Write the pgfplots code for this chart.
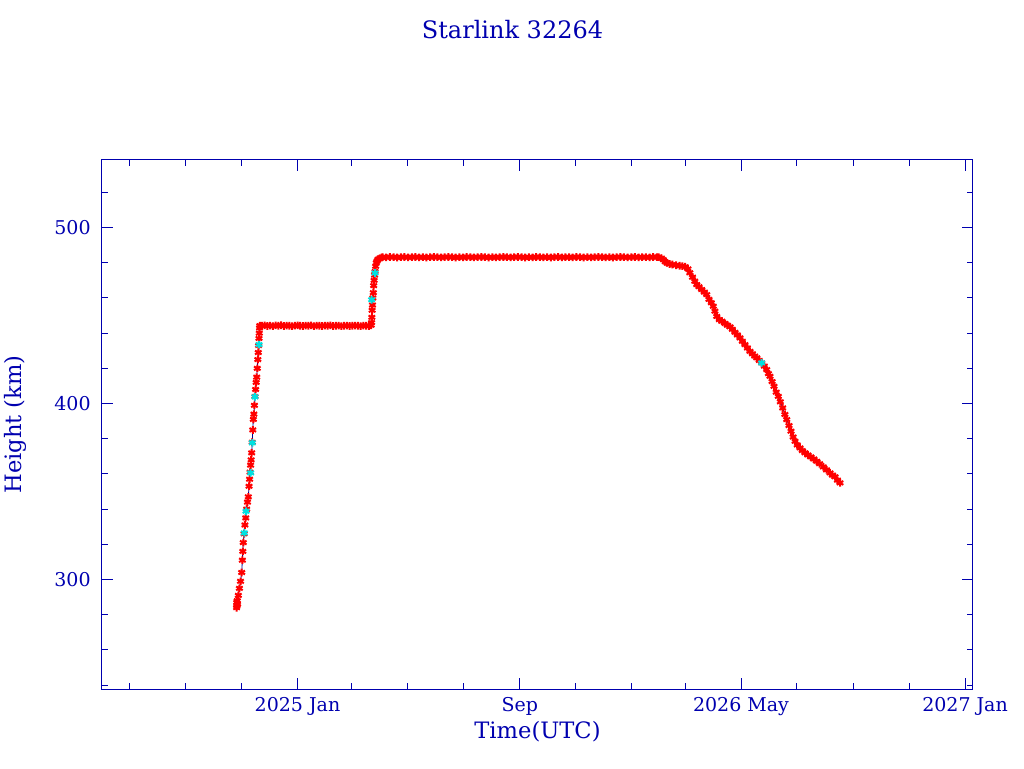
\documentclass[border=0pt]{standalone}
\usepackage{pgfplots}
\pgfplotsset{compat=1.18}
\usepackage{pgfplotstable}
\usepackage{fontspec}
\setmainfont{DejaVu Serif}
\definecolor{pgblue}{RGB}{0,0,175}
\definecolor{pgred}{RGB}{255,0,0}
\definecolor{pgcyan}{RGB}{0,225,225}
\definecolor{pgline}{RGB}{0,0,140}

\pgfplotstableread{
day h
-66.6 284
-66.4 287
-66.2 285
-65.9 288
-65.6 286
-64.7 291
-63.5 295
-62.3 299
-61.0 304
-60.3 311
-59.8 316
-59.3 321
-58.4 326
-57.5 331
-56.6 335
-55.6 340
-54.7 344
-53.8 347
-53.0 353
-52.4 357
-51.9 361
-51.3 365
-50.7 368
-50.1 372
-49.5 378
-48.9 385
-48.3 391
-47.7 394
-47.1 399
-46.5 404
-45.8 408
-45.2 412
-44.6 415
-44.0 420
-43.4 425
-42.9 429
-42.5 433
-42.1 437
-41.8 440
-41.5 443
-41.2 444.3
-39 444.2
-36 444.4
-33 444.1
-30 444.3
-27 444.0
-24 444.4
-21 444.2
-18 444.5
-15 444.1
-12 444.3
-9 444.2
-6 444.0
-3 444.3
0 444.4
3 444.2
6 444.1
9 444.3
12 444.2
15 444.4
18 444.0
21 444.3
24 444.2
27 444.1
30 444.3
33 444.2
36 444.4
39 444.1
42 444.2
45 444.3
48 444.0
51 444.2
54 444.3
57 444.1
60 444.2
63 444.3
66 444.2
69 444.0
72 444.3
75 444.2
78 444.1
80.5 444.5
81.0 446
81.3 449
81.6 453
82.0 456
82.4 460
82.9 463
83.3 467
83.8 470
84.3 473
84.8 475
85.5 478
86.2 480
87 481
88 482
90 482.5
92 483
93 483.2
97 483.1
101 483.3
105 483.2
109 483.0
113 483.2
117 483.3
121 483.1
125 483.2
129 483.3
133 483.1
137 483.2
141 483.0
145 483.2
149 483.3
153 483.2
157 483.1
161 483.2
165 483.3
169 483.2
173 483.0
177 483.2
181 483.1
185 483.3
189 483.2
193 483.1
197 483.2
201 483.3
205 483.2
209 483.0
213 483.2
217 483.1
221 483.2
225 483.3
229 483.2
233 483.1
237 483.2
241 483.3
245 483.2
249 483.0
253 483.2
257 483.1
261 483.3
265 483.2
269 483.1
273 483.2
277 483.0
281 483.2
285 483.3
289 483.1
293 483.2
297 483.2
301 483.1
305 483.3
309 483.2
313 483.0
317 483.2
321 483.1
325 483.2
329 483.3
333 483.2
337 483.1
341 483.2
345 483.0
349 483.2
353 483.3
357 483.2
361 483.1
365 483.2
369 483.3
373 483.1
377 483.2
381 483.2
385 483.1
389 483.3
393 483.2
395 483.2
398 482.6
400 481.8
402 480.6
404 479.9
407 479.3
410 479.0
414 478.6
418 478.3
421 478.1
424 477.8
427 476.5
429 474.3
432 471.8
434.5 469.5
436.6 467.6
439 466.4
442 464.8
445 463.3
447.5 461.9
450 459.2
452.5 457.3
454.7 455.3
456.5 452.5
458.5 449.5
461.3 447.7
464 446.8
467.5 445.5
470 444.6
473 443.6
475.5 442.2
478.4 440.5
481 439.0
483.9 437.3
486.5 435.4
489.3 433.5
492 431.6
494.8 429.7
497.5 428.3
500 427.0
502.2 426.0
505 424.5
507.6 423.1
510.5 421.3
513.1 419.3
515 417.0
516.7 415.5
519 412.5
521.1 409.8
523.5 406.5
525.8 404.1
528 401.0
530.6 397.5
533 393.8
535.0 390.9
537.5 387.5
539.7 384.3
542 381.0
544.1 378.6
546.5 376.5
549.5 374.8
552 373.3
555.0 372.0
558 370.8
561.2 369.7
564.5 368.5
567.8 367.2
571 365.8
575.0 364.0
578.5 362.3
582.3 360.6
585 359.3
587.8 358.4
590.5 356.5
593.3 354.9
}\tracktable

\pgfplotstableread{
day h
-58.2 326.5
-56.3 338.8
-51.2 360.6
-49.4 377.7
-46.5 403.8
-42.1 433.5
81.1 459
84.8 474.2
507.6 423.1
}\cyantable

\begin{document}
\begin{tikzpicture}
\useasboundingbox (0pt,0pt) rectangle (512pt,384pt);
\begin{axis}[
  at={(51pt,39.5pt)}, anchor=south west,
  scale only axis, width=435.5pt, height=264.5pt,
  xmin=-213.8, xmax=738.7, ymin=237.8, ymax=538.4,
  axis line style={pgblue, line width=0.5pt},
  tick style={pgblue, line width=0.5pt},
  tick align=inside,
  major tick length=5.5pt, minor tick length=3pt,
  xtick={0,243,485,730},
  xticklabels={2025 Jan,Sep,2026 May,2027 Jan},
  minor xtick={-184,-122,-61,59,120,181,304,365,424,546,608,669},
  ytick={300,400,500},
  minor ytick={240,260,280,320,340,360,380,420,440,460,480,520},
  ticklabel style={font=\fontsize{9.5}{11}\selectfont, text=pgblue},
  xticklabel style={inner sep=0pt, yshift=-4pt, anchor=north},
  yticklabel style={inner sep=0pt, xshift=-5.5pt, anchor=east},
  /pgf/number format/assume math mode=true,
  xlabel={Time(UTC)}, ylabel={Height (km)},
  label style={font=\fontsize{11.3}{13}\selectfont, text=pgblue},
  xlabel style={at={(axis description cs:0.5,-0.0813)}, anchor=center},
  ylabel style={at={(axis description cs:-0.0999,0.5)}, anchor=center, rotate=0},
]
\addplot[pgline, line width=0.4pt, no marks] table[x=day,y=h]{\tracktable};
\addplot[only marks, mark=asterisk, mark size=1.9pt, color=pgred, mark options={line width=1pt}] table[x=day,y=h]{\tracktable};
\addplot[only marks, mark=asterisk, mark size=1.9pt, color=pgcyan, mark options={line width=1pt}] table[x=day,y=h]{\cyantable};
\end{axis}
\node[text=pgblue, font=\fontsize{12}{14}\selectfont] at (256.25pt,369pt) {Starlink 32264};
\end{tikzpicture}
\end{document}
